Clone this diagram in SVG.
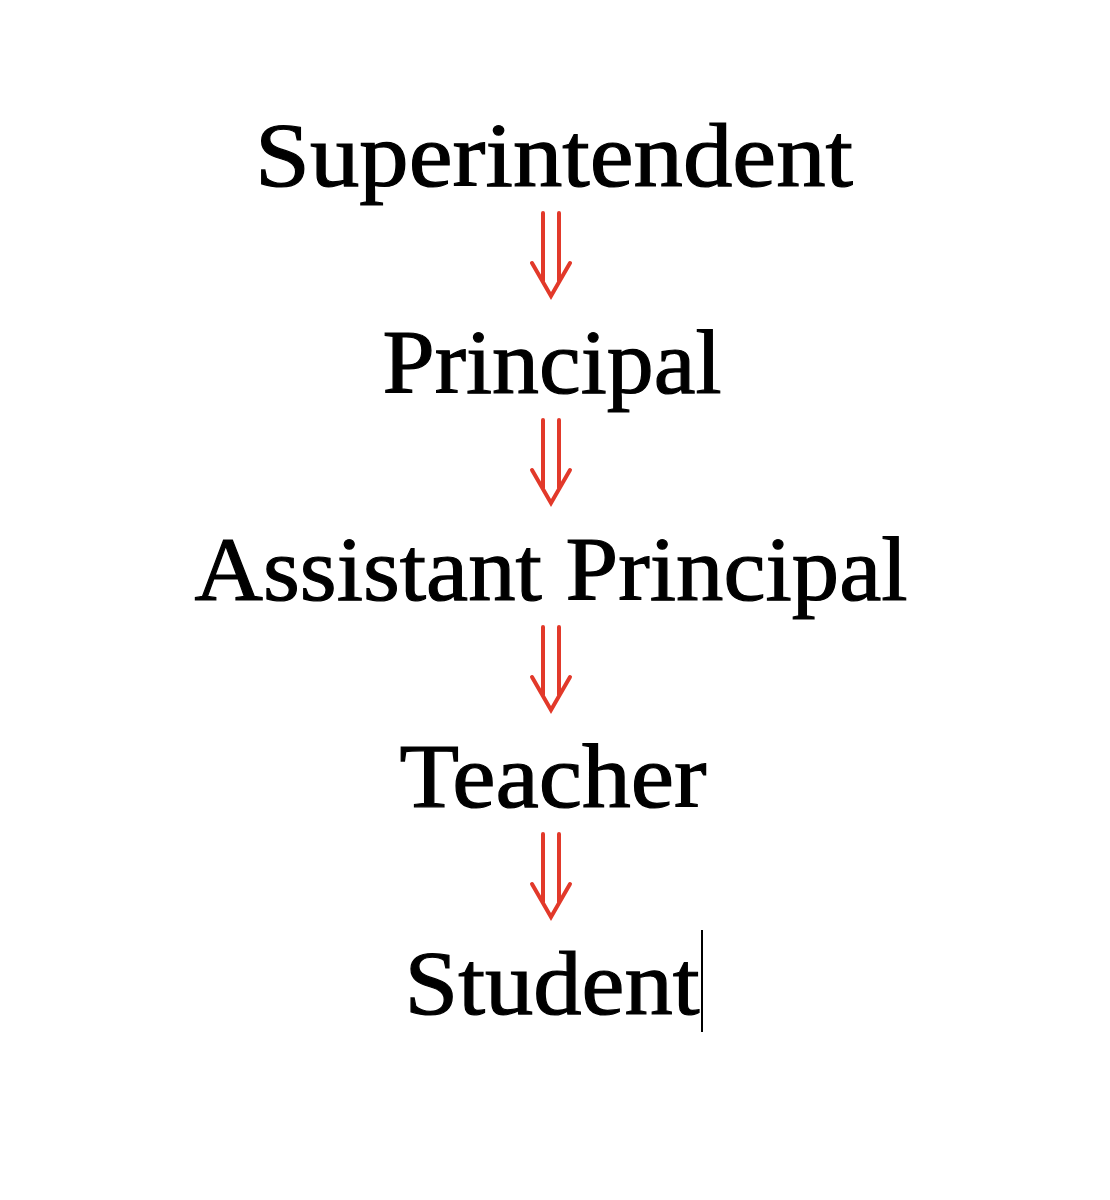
<svg xmlns="http://www.w3.org/2000/svg" width="1110" height="1200" viewBox="0 0 1110 1200">
<style>
.t{font-family:"Liberation Serif","DejaVu Serif",serif;font-size:92px;fill:#000;stroke:#000;stroke-width:1.2;text-anchor:middle}
.a{fill:none;stroke:#e2392a;stroke-width:4;stroke-linecap:round;stroke-linejoin:miter}
</style>
<defs>
<g id="arr">
<path class="a" d="M543,0 V68 M559,0 V68 M532,50 L551,83 L570,50"/>
</g>
</defs>
<rect width="1110" height="1200" fill="#fff"/>
<g id="connectors">
<use href="#arr" y="213"/>
<use href="#arr" y="420"/>
<use href="#arr" y="627"/>
<use href="#arr" y="834"/>
</g>
<g id="superintendent"><text class="t" x="554" y="186" textLength="598" lengthAdjust="spacingAndGlyphs">Superintendent</text></g>
<g id="principal"><text class="t" x="552" y="393" textLength="339" lengthAdjust="spacingAndGlyphs">Principal</text></g>
<g id="assistant-principal"><text class="t" x="551" y="600" textLength="713" lengthAdjust="spacingAndGlyphs">Assistant Principal</text></g>
<g id="teacher"><text class="t" x="553" y="807" textLength="307" lengthAdjust="spacingAndGlyphs">Teacher</text></g>
<g id="student"><text class="t" x="552" y="1014" textLength="295" lengthAdjust="spacingAndGlyphs">Student</text></g>
<line x1="702" y1="930" x2="702" y2="1032" stroke="#000" stroke-width="2"/>
</svg>
